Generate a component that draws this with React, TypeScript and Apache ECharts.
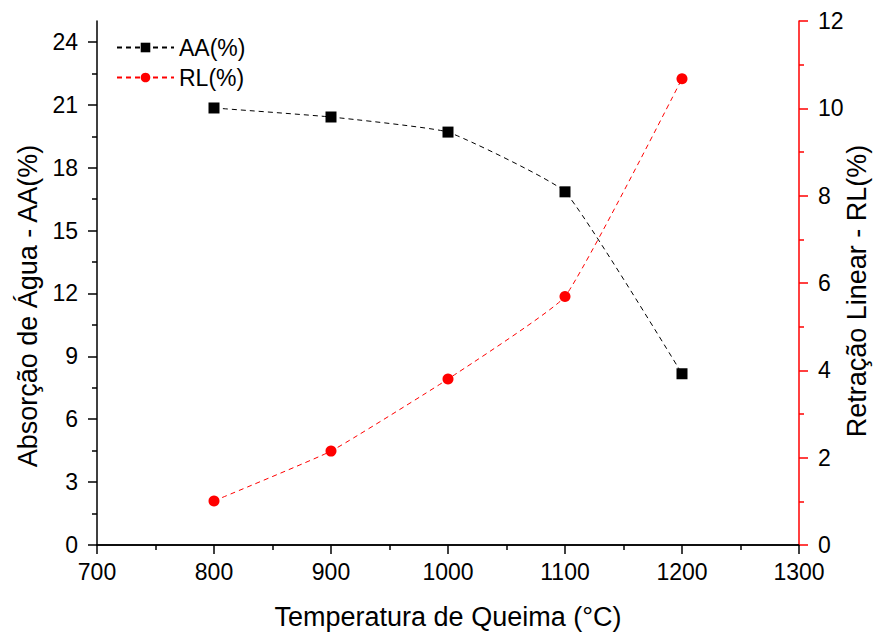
import React, { useEffect, useRef } from 'react';
import * as echarts from 'echarts';

const temperatures = [800, 900, 1000, 1100, 1200];
const aaValues = [20.85, 20.42, 19.7, 16.85, 8.17];
const rlValues = [1.01, 2.15, 3.8, 5.69, 10.68];

const leftMajorTicks = [0, 3, 6, 9, 12, 15, 18, 21, 24];
const leftMinorTicks = [1.5, 4.5, 7.5, 10.5, 13.5, 16.5, 19.5, 22.5];

const xName = 'Temperatura de Queima (°C)';
const leftName = 'Absorção de Água - AA(%)';
const rightName = 'Retração Linear - RL(%)';
const aaName = 'AA(%)';
const rlName = 'RL(%)';

const FONT = '"Liberation Sans", Arial, sans-serif';

export default function App() {
  const ref = useRef<HTMLDivElement>(null);
  useEffect(() => {
    if (!ref.current) return;
    const chart = echarts.init(ref.current, null, { renderer: 'svg' });
    const aaData = temperatures.map((t, i) => [t, aaValues[i]]);
    const rlData = temperatures.map((t, i) => [t, rlValues[i]]);
    const black = '#000';
    const red = '#ff0000';
    const plain = (v: number) => String(v);
    chart.setOption({
      animation: false,
      textStyle: { fontFamily: FONT },
      grid: { left: 97, right: 75, top: 21, bottom: 89, outerBoundsMode: 'none', containLabel: false },
      legend: {
        orient: 'vertical',
        left: 111,
        top: 30,
        itemWidth: 57,
        itemHeight: 12,
        itemGap: 5,
        textStyle: { fontSize: 23, color: black, fontFamily: FONT, lineHeight: 25 },
        data: [aaName, rlName],
      },
      graphic: [
        {
          type: 'text',
          x: 857,
          y: 291,
          rotation: Math.PI / 2,
          style: {
            text: rightName,
            fontSize: 27,
            fontFamily: FONT,
            fill: black,
            align: 'center',
            verticalAlign: 'middle',
          },
        },
      ],
      xAxis: [
        {
          type: 'value',
          position: 'bottom',
          min: 700,
          max: 1300,
          interval: 100,
          splitLine: { show: false },
          axisLine: { lineStyle: { color: black, width: 1.5 } },
          axisTick: { length: 9, lineStyle: { color: black, width: 1.5 } },
          minorTick: { show: true, splitNumber: 2, length: 5, lineStyle: { color: black, width: 1.5 } },
          axisLabel: { fontSize: 23, color: black, margin: 15, fontFamily: FONT, formatter: plain },
          name: xName,
          nameLocation: 'middle',
          nameGap: 58,
          nameTextStyle: { fontSize: 27, color: black, fontFamily: FONT },
        },
        {
          type: 'value',
          position: 'top',
          min: 700,
          max: 1300,
          splitLine: { show: false },
          axisLine: { lineStyle: { color: black, width: 1.5 } },
          axisTick: { show: false },
          axisLabel: { show: false },
        },
      ],
      yAxis: [
        {
          type: 'value',
          position: 'left',
          min: 0,
          max: 25,
          interval: 3,
          splitLine: { show: false },
          axisLine: { show: true, lineStyle: { color: black, width: 1.5 } },
          axisTick: { show: true, length: 9, customValues: leftMajorTicks, lineStyle: { color: black, width: 1.5 } },
          axisLabel: {
            fontSize: 23,
            color: black,
            margin: 19,
            fontFamily: FONT,
            customValues: leftMajorTicks,
            formatter: (v: number) => (v % 3 === 0 ? String(v) : ''),
          },
          name: leftName,
          nameLocation: 'middle',
          nameRotate: 90,
          nameGap: 50,
          nameTextStyle: { fontSize: 27, color: black, fontFamily: FONT, padding: [0, 46, 0, 0] },
        },
        {
          type: 'value',
          position: 'right',
          min: 0,
          max: 12,
          interval: 2,
          splitLine: { show: false },
          axisLine: { show: true, lineStyle: { color: red, width: 1.5 } },
          axisTick: { show: true, length: 9, lineStyle: { color: red, width: 1.5 } },
          minorTick: { show: true, splitNumber: 2, length: 5, lineStyle: { color: red, width: 1.5 } },
          axisLabel: { fontSize: 23, color: black, margin: 19, fontFamily: FONT, formatter: plain },
        },
        {
          type: 'value',
          position: 'left',
          min: 0,
          max: 25,
          splitLine: { show: false },
          axisLine: { show: false },
          axisTick: { show: true, length: 5, customValues: leftMinorTicks, lineStyle: { color: black, width: 1.5 } },
          axisLabel: { show: false },
        },
      ],
      series: [
        {
          name: aaName,
          type: 'line',
          xAxisIndex: 0,
          yAxisIndex: 0,
          data: aaData,
          smooth: 0.12,
          symbol: 'rect',
          symbolSize: 11,
          itemStyle: { color: black },
          lineStyle: { color: black, width: 1, type: [5, 4] },
          z: 3,
        },
        {
          name: rlName,
          type: 'line',
          xAxisIndex: 0,
          yAxisIndex: 1,
          data: rlData,
          smooth: 0.12,
          symbol: 'circle',
          symbolSize: 11,
          itemStyle: { color: red },
          lineStyle: { color: red, width: 1, type: [5, 4] },
          z: 2,
        },
      ],
    });
    return () => chart.dispose();
  }, []);
  return <div ref={ref} style={{ width: 874, height: 634, position: 'absolute', left: 0, top: 0 }} />;
}
